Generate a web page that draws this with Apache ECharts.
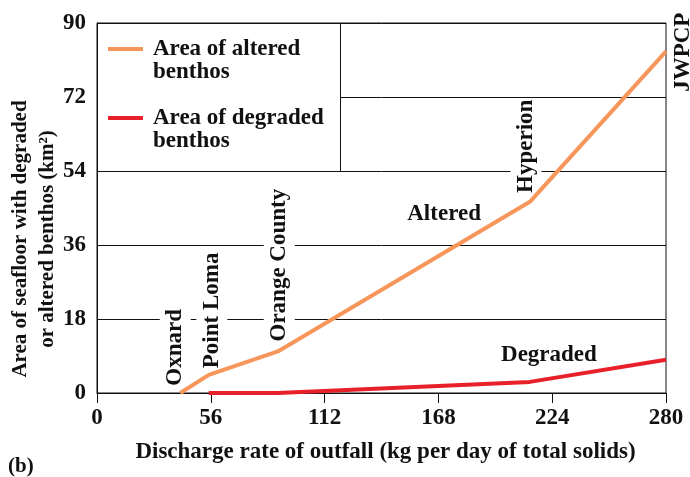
<!DOCTYPE html>
<html>
<head>
<meta charset="utf-8">
<script src="https://cdn.jsdelivr.net/npm/echarts@6/dist/echarts.min.js"></script>
<style>html,body{margin:0;padding:0;background:#fff;}#c{width:690px;height:477px;}</style>
</head>
<body>
<div id="c"></div>
<script>
// Data
const xTicks = [0, 56, 112, 168, 224, 280];
const yTicks = [0, 18, 36, 54, 72, 90];
const alteredX = [41, 55, 89, 213, 280];
const alteredY = [0, 4.4, 10.1, 46.5, 83.1];
const degradedX = [55, 89, 213, 280];
const degradedY = [0, 0, 2.7, 8.1];
const outfallNames = ['Oxnard', 'Point Loma', 'Orange County', 'Hyperion', 'JWPCP'];
const outfallLabelX = [38.5, 56.5, 89.7, 211.1, 280];
const outfallLabelY = [11.1, 20.1, 31.1, 60.0, 82.9];
const seriesNames = ['Area of altered benthos', 'Area of degraded benthos'];
const yAxisTitle = 'Area of seafloor with degraded\nor altered benthos (km²)';

const FONT = 'Liberation Serif';
const INK = '#111';
const FS = 23;

function pairs(xs, ys) { return xs.map((x, i) => [x, ys[i]]); }

const outfallMarks = outfallNames.map((n, i) => ({
  name: n,
  coord: [outfallLabelX[i], outfallLabelY[i]],
  label: {
    rotate: 90,
    offset: n === 'JWPCP' ? [0, 17] : [0, 0],
    backgroundColor: n === 'JWPCP' ? 'transparent' : '#fff',
    padding: [4, 1]
  }
}));
outfallMarks.push({ name: 'Altered', coord: [170.8, 43.5], label: { rotate: 0 } });

const markLabel = {
  show: true, formatter: '{b}', position: 'inside',
  fontFamily: FONT, fontWeight: 'bold', fontSize: FS, color: INK
};

const chart = echarts.init(document.getElementById('c'));
chart.setOption({
  animation: false,
  backgroundColor: '#fff',
  grid: { left: 97, right: 24, top: 23, bottom: 84, show: true, borderColor: INK, borderWidth: 1, backgroundColor: 'transparent' },
  xAxis: {
    type: 'value', min: xTicks[0], max: xTicks[xTicks.length - 1], interval: xTicks[1] - xTicks[0],
    name: 'Discharge rate of outfall (kg per day of total solids)',
    nameLocation: 'middle', nameGap: 48,
    nameTextStyle: { fontFamily: FONT, fontWeight: 'bold', fontSize: FS, color: INK, padding: [0, 0, 0, 8] },
    axisLine: { show: true, lineStyle: { color: INK, width: 1 } },
    axisTick: { show: true, length: 10, lineStyle: { color: INK } },
    axisLabel: { fontFamily: FONT, fontWeight: 'bold', fontSize: FS, color: INK, margin: 14 },
    splitLine: { show: false }
  },
  yAxis: {
    type: 'value', min: yTicks[0], max: yTicks[yTicks.length - 1], interval: yTicks[1] - yTicks[0],
    axisLine: { show: true, lineStyle: { color: INK, width: 1 } },
    axisTick: { show: false },
    axisLabel: { fontFamily: FONT, fontWeight: 'bold', fontSize: FS, color: INK, margin: 11 },
    splitLine: { show: true, lineStyle: { color: INK, width: 1 } }
  },
  legend: {
    orient: 'vertical', left: 108, top: 14.5, padding: 0, itemGap: 0,
    selectedMode: false, z: 10,
    icon: 'rect', itemWidth: 35, itemHeight: 4,
    data: seriesNames,
    formatter: function (n) {
      return n === seriesNames[0] ? '\nArea of altered\nbenthos' : '\nArea of degraded\nbenthos';
    },
    textStyle: { fontFamily: FONT, fontWeight: 'bold', fontSize: FS, color: INK, lineHeight: 23, padding: [0, 0, 0, 5] }
  },
  graphic: [
    {
      type: 'rect', z: 5,
      shape: { x: 97.5, y: 23.5, width: 243, height: 148 },
      style: { fill: '#fff', stroke: INK, lineWidth: 1 }
    },
    {
      type: 'text', x: 34, y: 239, rotation: Math.PI / 2, z: 5,
      style: {
        text: yAxisTitle, fontFamily: FONT, fontWeight: 'bold', fontSize: 21, lineHeight: 27,
        fill: INK, align: 'center', verticalAlign: 'middle'
      }
    },
    {
      type: 'text', left: 8, top: 456, z: 5,
      style: { text: '(b)', fontFamily: FONT, fontWeight: 'bold', fontSize: 21, fill: INK }
    }
  ],
  series: [
    {
      name: seriesNames[0], type: 'line', data: pairs(alteredX, alteredY),
      symbol: 'none', color: '#F7965A',
      lineStyle: { width: 4, color: '#F7965A' },
      z: 3,
      markPoint: { z: 2, symbol: 'circle', symbolSize: 0, label: markLabel, data: outfallMarks }
    },
    {
      name: seriesNames[1], type: 'line', data: pairs(degradedX, degradedY),
      symbol: 'none', color: '#E8202A',
      lineStyle: { width: 4, color: '#E8202A' },
      z: 3,
      markPoint: { z: 2, symbol: 'circle', symbolSize: 0, label: markLabel, data: [{ name: 'Degraded', coord: [222.4, 9.3] }] }
    }
  ]
});
</script>
</body>
</html>
